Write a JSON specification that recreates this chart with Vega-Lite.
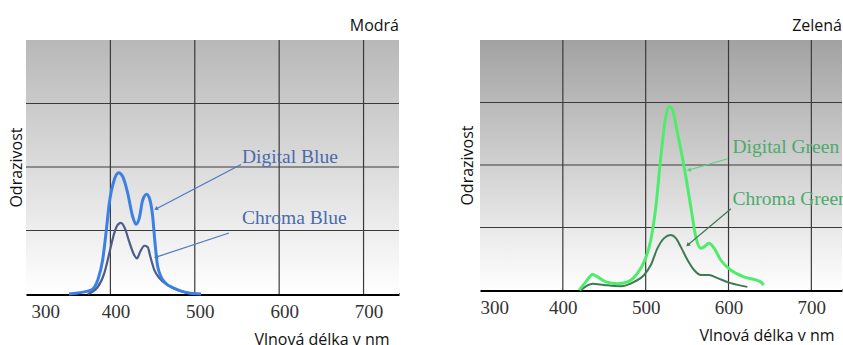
{
  "$schema": "https://vega.github.io/schema/vega-lite/v6.json",
  "background": "white",
  "padding": {"left": 8, "top": 18, "right": 0, "bottom": 0},
  "spacing": 59,
  "config": {
    "view": {"stroke": null},
    "font": "Open Sans",
    "title": {"font": "Open Sans", "fontSize": 16, "fontWeight": "normal", "color": "#111111", "anchor": "end", "frame": "group", "baseline": "alphabetic", "offset": 5},
    "axisX": {
      "values": [300, 400, 500, 600, 700],
      "grid": false, "ticks": false,
      "domain": true, "domainColor": "#000000", "domainWidth": 3,
      "labelFont": "Liberation Serif", "labelFontSize": 19, "labelColor": "#333333", "labelPadding": 8,
      "titleFont": "Open Sans", "titleFontSize": 16, "titleFontWeight": "normal", "titleColor": "#111111",
      "titleAnchor": "end", "titlePadding": 10, "zindex": 1
    },
    "axisY": {
      "labels": false, "ticks": false, "domain": false, "grid": false,
      "titleFont": "Open Sans", "titleFontSize": 16, "titleFontWeight": "normal", "titleColor": "#111111",
      "titlePadding": 2
    }
  },
  "datasets": {
    "blue": [
      {"series": "Digital Blue", "nm": 351.0, "r": 0},
      {"series": "Digital Blue", "nm": 377.0, "r": 0.06},
      {"series": "Digital Blue", "nm": 385.0, "r": 0.22},
      {"series": "Digital Blue", "nm": 390.9, "r": 0.54},
      {"series": "Digital Blue", "nm": 394.8, "r": 0.96},
      {"series": "Digital Blue", "nm": 398.7, "r": 1.43},
      {"series": "Digital Blue", "nm": 404.6, "r": 1.80},
      {"series": "Digital Blue", "nm": 409.8, "r": 1.91},
      {"series": "Digital Blue", "nm": 414.6, "r": 1.85},
      {"series": "Digital Blue", "nm": 420.5, "r": 1.59},
      {"series": "Digital Blue", "nm": 426.4, "r": 1.22},
      {"series": "Digital Blue", "nm": 430.3, "r": 1.10},
      {"series": "Digital Blue", "nm": 434.3, "r": 1.20},
      {"series": "Digital Blue", "nm": 438.3, "r": 1.48},
      {"series": "Digital Blue", "nm": 443.0, "r": 1.57},
      {"series": "Digital Blue", "nm": 446.9, "r": 1.48},
      {"series": "Digital Blue", "nm": 450.1, "r": 1.22},
      {"series": "Digital Blue", "nm": 452.9, "r": 0.80},
      {"series": "Digital Blue", "nm": 456.1, "r": 0.43},
      {"series": "Digital Blue", "nm": 463.9, "r": 0.19},
      {"series": "Digital Blue", "nm": 475.7, "r": 0.09},
      {"series": "Digital Blue", "nm": 491.6, "r": 0.02},
      {"series": "Digital Blue", "nm": 507.4, "r": 0},
      {"series": "Chroma Blue", "nm": 373.1, "r": 0},
      {"series": "Chroma Blue", "nm": 385.0, "r": 0.11},
      {"series": "Chroma Blue", "nm": 392.8, "r": 0.33},
      {"series": "Chroma Blue", "nm": 398.7, "r": 0.64},
      {"series": "Chroma Blue", "nm": 404.6, "r": 0.96},
      {"series": "Chroma Blue", "nm": 408.7, "r": 1.09},
      {"series": "Chroma Blue", "nm": 412.6, "r": 1.12},
      {"series": "Chroma Blue", "nm": 417.3, "r": 1.03},
      {"series": "Chroma Blue", "nm": 422.4, "r": 0.82},
      {"series": "Chroma Blue", "nm": 428.3, "r": 0.61},
      {"series": "Chroma Blue", "nm": 431.5, "r": 0.56},
      {"series": "Chroma Blue", "nm": 435.4, "r": 0.67},
      {"series": "Chroma Blue", "nm": 440.2, "r": 0.76},
      {"series": "Chroma Blue", "nm": 444.2, "r": 0.74},
      {"series": "Chroma Blue", "nm": 447.3, "r": 0.59},
      {"series": "Chroma Blue", "nm": 452.0, "r": 0.38},
      {"series": "Chroma Blue", "nm": 458.0, "r": 0.25},
      {"series": "Chroma Blue", "nm": 467.9, "r": 0.14},
      {"series": "Chroma Blue", "nm": 479.8, "r": 0.06},
      {"series": "Chroma Blue", "nm": 495.5, "r": 0.01}
    ],
    "green": [
      {"series": "Digital Green", "nm": 419.8, "r": 0},
      {"series": "Digital Green", "nm": 427.8, "r": 0.13},
      {"series": "Digital Green", "nm": 435.9, "r": 0.25},
      {"series": "Digital Green", "nm": 441.9, "r": 0.21},
      {"series": "Digital Green", "nm": 452.0, "r": 0.13},
      {"series": "Digital Green", "nm": 466.1, "r": 0.10},
      {"series": "Digital Green", "nm": 478.1, "r": 0.13},
      {"series": "Digital Green", "nm": 490.2, "r": 0.27},
      {"series": "Digital Green", "nm": 498.1, "r": 0.45},
      {"series": "Digital Green", "nm": 506.2, "r": 0.80},
      {"series": "Digital Green", "nm": 512.3, "r": 1.33},
      {"series": "Digital Green", "nm": 518.3, "r": 2.13},
      {"series": "Digital Green", "nm": 524.3, "r": 2.77},
      {"series": "Digital Green", "nm": 528.3, "r": 2.94},
      {"series": "Digital Green", "nm": 532.4, "r": 2.88},
      {"series": "Digital Green", "nm": 538.4, "r": 2.51},
      {"series": "Digital Green", "nm": 546.4, "r": 1.97},
      {"series": "Digital Green", "nm": 554.5, "r": 1.33},
      {"series": "Digital Green", "nm": 560.5, "r": 0.85},
      {"series": "Digital Green", "nm": 566.5, "r": 0.67},
      {"series": "Digital Green", "nm": 570.5, "r": 0.69},
      {"series": "Digital Green", "nm": 576.5, "r": 0.75},
      {"series": "Digital Green", "nm": 582.6, "r": 0.67},
      {"series": "Digital Green", "nm": 590.6, "r": 0.48},
      {"series": "Digital Green", "nm": 602.7, "r": 0.32},
      {"series": "Digital Green", "nm": 618.7, "r": 0.21},
      {"series": "Digital Green", "nm": 638.9, "r": 0.13},
      {"series": "Digital Green", "nm": 642.5, "r": 0.08},
      {"series": "Chroma Green", "nm": 421.8, "r": 0},
      {"series": "Chroma Green", "nm": 435.9, "r": 0.10},
      {"series": "Chroma Green", "nm": 449.9, "r": 0.08},
      {"series": "Chroma Green", "nm": 470.0, "r": 0.06},
      {"series": "Chroma Green", "nm": 486.1, "r": 0.13},
      {"series": "Chroma Green", "nm": 498.1, "r": 0.24},
      {"series": "Chroma Green", "nm": 506.2, "r": 0.40},
      {"series": "Chroma Green", "nm": 514.3, "r": 0.67},
      {"series": "Chroma Green", "nm": 522.3, "r": 0.83},
      {"series": "Chroma Green", "nm": 530.3, "r": 0.88},
      {"series": "Chroma Green", "nm": 536.4, "r": 0.83},
      {"series": "Chroma Green", "nm": 542.4, "r": 0.69},
      {"series": "Chroma Green", "nm": 550.5, "r": 0.48},
      {"series": "Chroma Green", "nm": 558.4, "r": 0.32},
      {"series": "Chroma Green", "nm": 566.5, "r": 0.24},
      {"series": "Chroma Green", "nm": 576.5, "r": 0.24},
      {"series": "Chroma Green", "nm": 586.7, "r": 0.19},
      {"series": "Chroma Green", "nm": 602.7, "r": 0.11},
      {"series": "Chroma Green", "nm": 622.8, "r": 0.05}
    ],
    "vgrid": [{"nm": 400}, {"nm": 500}, {"nm": 600}, {"nm": 700}],
    "hgrid": [{"r": 1}, {"r": 2}, {"r": 3}],
    "blueLabels": [
      {"label": "Digital Blue", "nm": 556, "r": 2.06},
      {"label": "Chroma Blue", "nm": 556, "r": 1.11}
    ],
    "blueArrows": [
      {"label": "Digital Blue", "nm": 554.8, "r": 2.04, "nm2": 454.0, "r2": 1.34},
      {"label": "Chroma Blue", "nm": 540.5, "r": 0.96, "nm2": 454.0, "r2": 0.58}
    ],
    "greenLabels": [
      {"label": "Digital Green", "nm": 604.8, "r": 2.19},
      {"label": "Chroma Green", "nm": 604.8, "r": 1.36}
    ],
    "greenArrows": [
      {"label": "Digital Green", "nm": 599.1, "r": 2.1, "nm2": 552.1, "r2": 1.92},
      {"label": "Chroma Green", "nm": 603.0, "r": 1.30, "nm2": 550.8, "r2": 0.72}
    ]
  },
  "hconcat": [
    {
      "width": 373,
      "height": 254,
      "title": {"text": "Modrá"},
      "layer": [
        {
          "data": {"values": [{}]},
          "mark": {"type": "rect", "fill": {"gradient": "linear", "x1": 0, "y1": 0, "x2": 0, "y2": 1, "stops": [{"offset": 0, "color": "#b8b8b8"}, {"offset": 1, "color": "#ffffff"}]}},
          "encoding": {
            "y": {"datum": 0, "type": "quantitative", "scale": {"domain": [0, 4], "nice": false}, "axis": {"title": "Odrazivost"}},
            "y2": {"datum": 4}
          }
        },
        {
          "data": {"name": "vgrid"},
          "mark": {"type": "rule", "color": "#3a3a3a", "strokeWidth": 1.2},
          "encoding": {"x": {"field": "nm", "type": "quantitative", "scale": {"domain": [300, 742], "nice": false, "zero": false}, "axis": {"title": "Vlnová délka v nm", "labelOffset": 5, "titleX": 363, "titleAlign": "right"}}}
        },
        {
          "data": {"name": "hgrid"},
          "mark": {"type": "rule", "color": "#3a3a3a", "strokeWidth": 1.2},
          "encoding": {"y": {"field": "r", "type": "quantitative"}}
        },
        {
          "data": {"name": "blue"},
          "transform": [{"filter": "datum.series == 'Chroma Blue'"}],
          "mark": {"type": "line", "interpolate": "monotone", "color": "#4b5d88", "strokeWidth": 2.2},
          "encoding": {"x": {"field": "nm", "type": "quantitative"}, "y": {"field": "r", "type": "quantitative"}}
        },
        {
          "data": {"name": "blue"},
          "transform": [{"filter": "datum.series == 'Digital Blue'"}],
          "mark": {"type": "line", "interpolate": "monotone", "color": "#3b80e4", "strokeWidth": 3},
          "encoding": {"x": {"field": "nm", "type": "quantitative"}, "y": {"field": "r", "type": "quantitative"}}
        },
        {
          "data": {"name": "blueArrows"},
          "mark": {"type": "rule", "color": "#4a78c4", "strokeWidth": 1.2},
          "encoding": {
            "x": {"field": "nm", "type": "quantitative"}, "y": {"field": "r", "type": "quantitative"},
            "x2": {"field": "nm2"}, "y2": {"field": "r2"}
          }
        },
        {
          "data": {"name": "blueArrows"},
          "mark": {"type": "point", "shape": "triangle-up", "filled": true, "size": 22, "color": "#4a78c4", "opacity": 1},
          "encoding": {
            "x": {"field": "nm2", "type": "quantitative"}, "y": {"field": "r2", "type": "quantitative"},
            "angle": {"condition": {"test": "datum.label == 'Chroma Blue'", "value": 252}, "value": 242}
          }
        },
        {
          "data": {"name": "blueLabels"},
          "mark": {"type": "text", "align": "left", "baseline": "alphabetic", "font": "Liberation Serif", "fontSize": 19.5, "color": "#4a6bae"},
          "encoding": {
            "x": {"field": "nm", "type": "quantitative"}, "y": {"field": "r", "type": "quantitative"},
            "text": {"field": "label"}
          }
        }
      ]
    },
    {
      "width": 362,
      "height": 250,
      "title": {"text": "Zelená"},
      "layer": [
        {
          "data": {"values": [{}]},
          "mark": {"type": "rect", "fill": {"gradient": "linear", "x1": 0, "y1": 0, "x2": 0, "y2": 1, "stops": [{"offset": 0, "color": "#a2a2a2"}, {"offset": 1, "color": "#ffffff"}]}},
          "encoding": {
            "y": {"datum": 0, "type": "quantitative", "scale": {"domain": [0, 4], "nice": false}, "axis": {"title": "Odrazivost", "titlePadding": 5}},
            "y2": {"datum": 4}
          }
        },
        {
          "data": {"name": "vgrid"},
          "mark": {"type": "rule", "color": "#3a3a3a", "strokeWidth": 1.2},
          "encoding": {"x": {"field": "nm", "type": "quantitative", "scale": {"domain": [300, 737], "nice": false, "zero": false}, "axis": {"title": "Vlnová délka v nm", "titleX": 354, "titleAlign": "right"}}}
        },
        {
          "data": {"name": "hgrid"},
          "mark": {"type": "rule", "color": "#3a3a3a", "strokeWidth": 1.2},
          "encoding": {"y": {"field": "r", "type": "quantitative"}}
        },
        {
          "data": {"name": "green"},
          "transform": [{"filter": "datum.series == 'Chroma Green'"}],
          "mark": {"type": "line", "interpolate": "monotone", "color": "#3f7a55", "strokeWidth": 2},
          "encoding": {"x": {"field": "nm", "type": "quantitative"}, "y": {"field": "r", "type": "quantitative"}}
        },
        {
          "data": {"name": "green"},
          "transform": [{"filter": "datum.series == 'Digital Green'"}],
          "mark": {"type": "line", "interpolate": "monotone", "color": "#4fec6c", "strokeWidth": 3},
          "encoding": {"x": {"field": "nm", "type": "quantitative"}, "y": {"field": "r", "type": "quantitative"}}
        },
        {
          "data": {"name": "greenArrows"},
          "mark": {"type": "rule", "strokeWidth": 1.2},
          "encoding": {
            "x": {"field": "nm", "type": "quantitative"}, "y": {"field": "r", "type": "quantitative"},
            "x2": {"field": "nm2"}, "y2": {"field": "r2"},
            "color": {"condition": {"test": "datum.label == 'Chroma Green'", "value": "#3f7a55"}, "value": "#5cd27a"}
          }
        },
        {
          "data": {"name": "greenArrows"},
          "mark": {"type": "point", "shape": "triangle-up", "filled": true, "size": 22, "opacity": 1},
          "encoding": {
            "x": {"field": "nm2", "type": "quantitative"}, "y": {"field": "r2", "type": "quantitative"},
            "angle": {"condition": {"test": "datum.label == 'Chroma Green'", "value": 228}, "value": 256},
            "color": {"condition": {"test": "datum.label == 'Chroma Green'", "value": "#3f7a55"}, "value": "#5cd27a"}
          }
        },
        {
          "data": {"name": "greenLabels"},
          "mark": {"type": "text", "align": "left", "baseline": "alphabetic", "font": "Liberation Serif", "fontSize": 19.5, "color": "#4caa6c"},
          "encoding": {
            "x": {"field": "nm", "type": "quantitative"}, "y": {"field": "r", "type": "quantitative"},
            "text": {"field": "label"}
          }
        }
      ]
    }
  ]
}
